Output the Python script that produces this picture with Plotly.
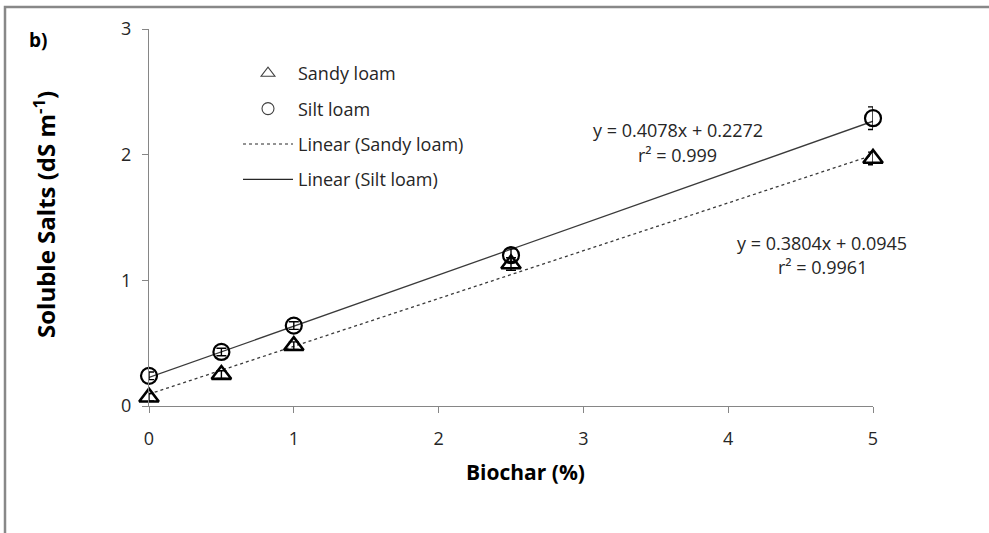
import plotly.graph_objects as go

# Biochar application rate (%)
biochar = [0, 0.5, 1, 2.5, 5]

# Soluble salts (dS m-1) with standard errors
sandy_loam = [0.07, 0.25, 0.48, 1.13, 1.97]
sandy_err = [0.03, 0.03, 0.03, 0.05, 0.05]
silt_loam = [0.24, 0.43, 0.64, 1.20, 2.29]
silt_err = [0.03, 0.03, 0.03, 0.05, 0.09]

# Linear fits
sandy_fit = {"slope": 0.3804, "intercept": 0.0945, "r2": 0.9961}
silt_fit = {"slope": 0.4078, "intercept": 0.2272, "r2": 0.999}

fit_x = [0, 5]

W, H = 989, 533
ML, MR, MT, MB = 149, 116, 29, 127
PW, PH = W - ML - MR, H - MT - MB

FONT = "Open Sans"
TXT = "#262626"
AX = "#868686"


def px_x(p):
    return (p - ML) / PW


def px_y(p):
    return (H - MB - p) / PH


fig = go.Figure()

# trend lines
fig.add_trace(go.Scatter(
    x=fit_x, y=[sandy_fit["slope"] * v + sandy_fit["intercept"] for v in fit_x],
    mode="lines", line=dict(color="#3a3a3a", width=1.3, dash="dot"),
    showlegend=False, hoverinfo="skip"))
fig.add_trace(go.Scatter(
    x=fit_x, y=[silt_fit["slope"] * v + silt_fit["intercept"] for v in fit_x],
    mode="lines", line=dict(color="#3a3a3a", width=1.3),
    showlegend=False, hoverinfo="skip"))

# measured points
fig.add_trace(go.Scatter(
    x=biochar, y=sandy_loam, mode="markers", name="Sandy loam",
    marker=dict(symbol="triangle-up-open", size=17, color="black",
                line=dict(width=2.6, color="black")),
    error_y=dict(type="data", array=sandy_err, color="black", thickness=1.4, width=5),
    showlegend=False, cliponaxis=False))
fig.add_trace(go.Scatter(
    x=biochar, y=silt_loam, mode="markers", name="Silt loam",
    marker=dict(symbol="circle-open", size=16, color="black",
                line=dict(width=2.2, color="black")),
    error_y=dict(type="data", array=silt_err, color="black", thickness=1.4, width=5),
    showlegend=False, cliponaxis=False))

# legend entries
leg = [
    dict(name="Sandy loam", mode="markers",
         marker=dict(symbol="triangle-up-open", size=12, color="#404040",
                     line=dict(width=1.1, color="#404040"))),
    dict(name="Silt loam", mode="markers",
         marker=dict(symbol="circle-open", size=12, color="#404040",
                     line=dict(width=1.1, color="#404040"))),
    dict(name="Linear (Sandy loam)", mode="lines",
         line=dict(color="#262626", width=1, dash="dot")),
    dict(name="Linear (Silt loam)", mode="lines",
         line=dict(color="#262626", width=1.2)),
]
for i, d in enumerate(leg):
    fig.add_trace(go.Scatter(x=[None], y=[None], legendgroup=f"g{i}",
                             showlegend=True, **d))

fig.update_xaxes(
    range=[0, 5], tickvals=[0, 1, 2, 3, 4, 5], showgrid=False, zeroline=False,
    showline=True, linecolor=AX, linewidth=1.3, ticks="outside", ticklen=6,
    tickcolor=AX, tickwidth=1.3, ticklabelstandoff=10,
    tickfont=dict(family=FONT, size=18, color=TXT))
fig.update_yaxes(
    range=[0, 3], tickvals=[0, 1, 2, 3], showgrid=False, zeroline=False,
    showline=True, linecolor=AX, linewidth=1.3, ticks="outside", ticklen=6,
    tickcolor=AX, tickwidth=1.3, ticklabelstandoff=7,
    tickfont=dict(family=FONT, size=18, color=TXT))

annotations = [
    dict(text="<b>Biochar (%)</b>", x=px_x(525), y=px_y(472),
         font=dict(family=FONT, size=21, color="black")),
    dict(text="<b>Soluble Salts (dS m<sup>-1</sup>)</b>", x=px_x(44), y=px_y(215),
         textangle=-90, font=dict(family=FONT, size=24, color="black")),
    dict(text="<b>b)</b>", x=px_x(38), y=px_y(40),
         font=dict(family=FONT, size=19, color="black")),
    dict(text=f"y = {silt_fit['slope']:.4f}x + {silt_fit['intercept']:.4f}",
         x=px_x(678), y=px_y(130), font=dict(family=FONT, size=18, color=TXT)),
    dict(text=f"r² = {silt_fit['r2']}", x=px_x(677), y=px_y(155),
         font=dict(family=FONT, size=18, color=TXT)),
    dict(text=f"y = {sandy_fit['slope']:.4f}x + {sandy_fit['intercept']:.4f}",
         x=px_x(822), y=px_y(243), font=dict(family=FONT, size=18, color=TXT)),
    dict(text=f"r² = {sandy_fit['r2']}", x=px_x(822), y=px_y(267),
         font=dict(family=FONT, size=18, color=TXT)),
]
for a in annotations:
    a.update(xref="paper", yref="paper", showarrow=False,
             xanchor="center", yanchor="middle")

fig.update_layout(
    width=W, height=H,
    margin=dict(l=ML, r=MR, t=MT, b=MB),
    paper_bgcolor="white", plot_bgcolor="white",
    font=dict(family=FONT, color=TXT),
    annotations=annotations,
    legend=dict(x=px_x(238), y=px_y(55), xanchor="left", yanchor="top",
                bgcolor="rgba(0,0,0,0)", tracegroupgap=9, itemwidth=50,
                font=dict(family=FONT, size=18, color=TXT)),
    shapes=[dict(type="rect", xref="paper", yref="paper",
                 x0=px_x(5), x1=px_x(1000), y0=px_y(545), y1=px_y(7),
                 line=dict(color="#888888", width=2.5), layer="below")],
)

fig.write_html("out.html")
